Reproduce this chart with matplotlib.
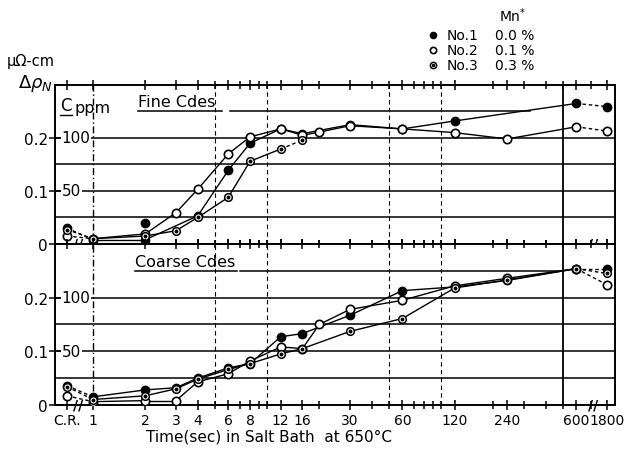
import numpy as np
import matplotlib
matplotlib.use('Agg')
import matplotlib.pyplot as plt
import matplotlib.transforms as mtransforms
from matplotlib.lines import Line2D

# time in salt bath (sec), 0 = cold rolled (C.R.) state
# values are delta rho_N in micro-ohm cm (0.2 <-> 100 ppm C)
fine_no1_t = [0, 1, 2, 4, 6, 8, 12, 16, 30, 60, 120, 600, 1800]
fine_no1_v = [0.030, 0.008, 0.008, 0.053, 0.139, 0.190, 0.217, 0.208, 0.225, 0.217, 0.232, 0.265, 0.259]
fine_no2_t = [0, 1, 2, 3, 4, 6, 8, 12, 16, 20, 30, 60, 120, 240, 600, 1800]
fine_no2_v = [0.015, 0.010, 0.019, 0.059, 0.103, 0.170, 0.202, 0.217, 0.205, 0.211, 0.223, 0.217, 0.210, 0.198, 0.221, 0.213]
fine_no3_t = [0, 1, 2, 3, 4, 6, 8, 12, 16]
fine_no3_v = [0.027, 0.010, 0.015, 0.025, 0.050, 0.088, 0.156, 0.179, 0.196]
fine_stray_t = [2]
fine_stray_v = [0.040]

coarse_no1_t = [0, 1, 2, 3, 4, 6, 8, 12, 16, 30, 60, 120, 240, 600, 1800]
coarse_no1_v = [0.036, 0.015, 0.028, 0.032, 0.050, 0.069, 0.077, 0.127, 0.133, 0.167, 0.213, 0.220, 0.232, 0.254, 0.254]
coarse_no2_t = [0, 1, 2, 3, 4, 6, 8, 12, 16, 20, 30, 60, 120, 240, 600, 1800]
coarse_no2_v = [0.017, 0.006, 0.008, 0.008, 0.043, 0.058, 0.082, 0.108, 0.105, 0.150, 0.178, 0.195, 0.222, 0.236, 0.254, 0.224]
coarse_no3_t = [0, 1, 2, 3, 4, 6, 8, 12, 16, 30, 60, 120, 240, 600, 1800]
coarse_no3_v = [0.034, 0.010, 0.017, 0.030, 0.048, 0.066, 0.077, 0.095, 0.105, 0.137, 0.161, 0.218, 0.233, 0.254, 0.245]

major_t = [0, 1, 2, 3, 4, 6, 8, 12, 16, 30, 60, 120, 240, 600, 1800]
major_lbl = ['C.R.', '1', '2', '3', '4', '6', '8', '12', '16', '30', '60', '120', '240', '600', '1800']
minor_t = [5, 7, 9, 10, 20, 40, 50, 70, 80, 90, 100, 200, 300, 400, 500, 1000]

legend_names = ['No.1', 'No.2', 'No.3']
legend_mn = ['0.0 %', '0.1 %', '0.3 %']

# x axis: short linear stretch for C.R., log 1..600 s, squeezed log after the break
A = 0.149
K = 0.369
T_BRK = 600.0


def fwd(t):
    t = np.asarray(t, dtype=float)
    safe = np.clip(t, 1e-9, None)
    lo = (t - 1) * A
    mid = np.log10(safe)
    hi = np.log10(T_BRK) + K * np.log10(safe / T_BRK)
    return np.where(t < 1, lo, np.where(t <= T_BRK, mid, hi))


def inv(y):
    y = np.asarray(y, dtype=float)
    lo = 1 + y / A
    mid = 10 ** np.clip(y, -10, 10)
    hi = T_BRK * 10 ** np.clip((y - np.log10(T_BRK)) / K, -10, 10)
    return np.where(y < 0, lo, np.where(y <= np.log10(T_BRK), mid, hi))


st_no1 = dict(marker='o', ms=6, mfc='black', mec='black', mew=1.0)
st_no2 = dict(marker='o', ms=6, mfc='white', mec='black', mew=1.2)
st_no3 = dict(marker='o', ms=5.5, mfc='white', mec='black', mew=1.1)


def draw_series(ax, t, v, style, dotted=False, dash_tail=False):
    n = len(t)
    for i in range(n - 1):
        dashed = t[i] == 0 or t[i + 1] == 1800 or (dash_tail and i == n - 2)
        ax.plot(t[i:i + 2], v[i:i + 2], color='black', lw=1.0,
                ls=(0, (2.5, 2)) if dashed else '-', zorder=3)
    ax.plot(t, v, ls='none', zorder=4, **style)
    if dotted:
        ax.plot(t, v, ls='none', marker='o', ms=1.8, color='black', zorder=5)


def setup(ax, title, und, rest, bottom):
    ax.set_xscale('function', functions=(fwd, inv))
    ax.set_xlim(float(inv(-0.218)), float(inv(3.0)))
    ax.set_ylim(0, 0.30)
    for s in ax.spines.values():
        s.set_linewidth(1.4)
    ax.set_xticks(major_t)
    ax.set_xticks(minor_t, minor=True)
    if bottom:
        ax.set_xticklabels(major_lbl, fontsize=10)
    else:
        ax.set_xticklabels([])
    ax.set_xticklabels([], minor=True)
    ax.tick_params(axis='x', which='both', direction='inout', top=True, width=1.1, pad=2)
    ax.tick_params(axis='x', which='major', length=7)
    ax.tick_params(axis='x', which='minor', length=6)
    ax.set_yticks([0, 0.1, 0.2])
    ax.set_yticklabels(['0', '0.1', '0.2'], fontsize=11)
    ax.tick_params(axis='y', direction='inout', length=8, width=1.1, pad=1)

    for y in [0.05, 0.1, 0.15, 0.2]:
        ax.axhline(y, color='black', lw=1.1, zorder=1)
    ax.axhline(0.25, xmin=und[0], xmax=und[1], color='black', lw=1.1, zorder=1)
    ax.axhline(0.25, xmin=rest[0], xmax=rest[1], color='black', lw=1.1, zorder=1)
    ax.axvline(1, color='black', lw=1.0, ls=(0, (5, 2, 1, 2)), zorder=1)
    for xv in [5, 10, 50, 100]:
        ax.axvline(xv, color='black', lw=0.8, ls=(0, (4, 3)), zorder=1)
    ax.axvline(500, color='black', lw=1.3, zorder=1)

    tr = mtransforms.blended_transform_factory(ax.transAxes, ax.transData)
    for y, s in [(0.1, '50'), (0.2, '100')]:
        ax.text(0.012, y, s, transform=tr, ha='left', va='center', fontsize=11,
                bbox=dict(facecolor='white', edgecolor='none', pad=0.6), zorder=2)
    ax.text(und[0], 0.254, title, transform=tr, ha='left', va='bottom', fontsize=11.5)

    trb = mtransforms.blended_transform_factory(ax.transData, ax.transAxes)
    for xb in [0.42, 1090]:
        ax.text(xb, 0.0, '//', transform=trb, ha='center', va='center', fontsize=10,
                fontweight='bold', clip_on=False, zorder=6)


fig = plt.figure(figsize=(6.32, 4.52), dpi=100)
ax_f = fig.add_axes([0.087, 0.458, 0.886, 0.352])
ax_c = fig.add_axes([0.087, 0.102, 0.886, 0.356])

setup(ax_f, 'Fine Cdes', (0.148, 0.298), (0.313, 0.848), False)
setup(ax_c, 'Coarse Cdes', (0.143, 0.325), (0.330, 0.906), True)

draw_series(ax_f, fine_no1_t, fine_no1_v, st_no1)
draw_series(ax_f, fine_no2_t, fine_no2_v, st_no2)
draw_series(ax_f, fine_no3_t, fine_no3_v, st_no3, dotted=True, dash_tail=True)
ax_f.plot(fine_stray_t, fine_stray_v, ls='none', zorder=4, **st_no1)

draw_series(ax_c, coarse_no1_t, coarse_no1_v, st_no1)
draw_series(ax_c, coarse_no2_t, coarse_no2_v, st_no2)
draw_series(ax_c, coarse_no3_t, coarse_no3_v, st_no3, dotted=True)

# "C ppm" with underlined C
tr = mtransforms.blended_transform_factory(ax_f.transAxes, ax_f.transData)
ax_f.text(0.010, 0.246, 'C', transform=tr, ha='left', va='bottom', fontsize=12)
ax_f.text(0.034, 0.244, 'ppm', transform=tr, ha='left', va='bottom', fontsize=11.5)
ax_f.plot([0.009, 0.030], [0.243, 0.243], transform=tr, color='black', lw=1.0)

# axis labels
fig.text(0.010, 0.865, 'μΩ-cm', ha='left', va='center', fontsize=10.5)
fig.text(0.028, 0.815, r'$\Delta\rho_N$', ha='left', va='center', fontsize=13)
fig.text(0.425, 0.033, 'Time(sec) in Salt Bath  at 650°C', ha='center', va='center', fontsize=11)

# legend block at top right
fig.text(0.812, 0.966, r'Mn$^{*}$', ha='center', va='center', fontsize=10)
leg_styles = [st_no1, st_no2, st_no3]
for i, (nm, mn) in enumerate(zip(legend_names, legend_mn)):
    yy = 0.921 - i * 0.034
    st = dict(leg_styles[i])
    st['ms'] = 4.5
    fig.add_artist(Line2D([0.685], [yy], transform=fig.transFigure, ls='none', **st))
    if i == 2:
        fig.add_artist(Line2D([0.685], [yy], transform=fig.transFigure, ls='none',
                              marker='o', ms=1.5, color='black'))
    fig.text(0.707, yy, nm, ha='left', va='center', fontsize=10)
    fig.text(0.783, yy, mn, ha='left', va='center', fontsize=10)

fig.savefig('out.png', dpi=100)
